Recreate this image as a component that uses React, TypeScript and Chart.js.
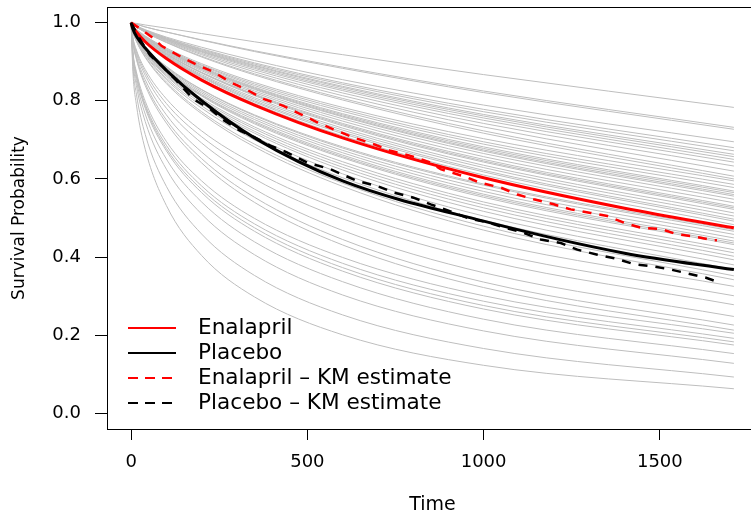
import React, { useEffect, useRef } from "react";
import { Chart, registerables } from "chart.js";

Chart.register(...registerables);

// ---------- data ----------
const xTicks = [0, 500, 1000, 1500];
const xTickLabels = ["0", "500", "1000", "1500"];
const yTicks = [0, 0.2, 0.4, 0.6, 0.8, 1.0];
const yTickLabels = ["0.0", "0.2", "0.4", "0.6", "0.8", "1.0"];

// times at which posterior survival curves were read
const greyTimes = [0, 5, 15, 40, 100, 200, 350, 600, 1000, 1710];
const greyCurves: number[][] = [
  [1, .999, .998, .994, .986, .972, .951, .918, .867, .783],
  [1, .998, .996, .989, .976, .956, .928, .886, .825, .732],
  [1, .998, .996, .989, .976, .955, .926, .883, .821, .727],
  [1, .997, .992, .982, .963, .937, .903, .854, .789, .695],
  [1, .996, .991, .981, .961, .933, .897, .846, .778, .680],
  [1, .996, .991, .980, .960, .931, .894, .842, .772, .672],
  [1, .996, .991, .980, .958, .929, .891, .837, .765, .663],
  [1, .996, .991, .979, .958, .927, .889, .834, .761, .657],
  [1, .996, .990, .979, .957, .926, .886, .830, .756, .650],
  [1, .996, .990, .978, .955, .924, .883, .826, .750, .643],
  [1, .996, .990, .978, .954, .921, .879, .820, .742, .633],
  [1, .996, .989, .977, .952, .918, .874, .813, .733, .620],
  [1, .995, .989, .976, .950, .914, .869, .806, .723, .607],
  [1, .995, .989, .975, .949, .912, .866, .802, .717, .600],
  [1, .992, .983, .966, .935, .895, .847, .783, .703, .595],
  [1, .992, .982, .965, .933, .892, .843, .778, .695, .586],
  [1, .992, .982, .964, .931, .890, .839, .773, .689, .578],
  [1, .992, .982, .963, .930, .887, .835, .767, .682, .569],
  [1, .991, .981, .962, .929, .885, .833, .764, .678, .565],
  [1, .991, .981, .962, .928, .884, .831, .761, .674, .560],
  [1, .991, .981, .961, .927, .882, .829, .759, .671, .556],
  [1, .991, .980, .961, .925, .880, .825, .754, .665, .548],
  [1, .991, .980, .959, .923, .877, .821, .748, .657, .539],
  [1, .991, .979, .958, .921, .873, .817, .742, .650, .530],
  [1, .990, .979, .958, .920, .872, .815, .739, .646, .526],
  [1, .990, .979, .957, .919, .871, .813, .736, .643, .522],
  [1, .990, .978, .956, .917, .867, .808, .730, .635, .513],
  [1, .990, .978, .955, .915, .864, .804, .725, .629, .505],
  [1, .990, .977, .954, .913, .862, .800, .720, .622, .497],
  [1, .989, .977, .954, .912, .860, .797, .716, .618, .492],
  [1, .989, .976, .952, .910, .856, .793, .710, .610, .483],
  [1, .983, .966, .936, .888, .829, .764, .682, .587, .470],
  [1, .983, .965, .936, .886, .828, .762, .679, .584, .466],
  [1, .983, .965, .934, .884, .824, .757, .673, .576, .458],
  [1, .982, .964, .933, .881, .820, .752, .667, .568, .449],
  [1, .982, .963, .931, .879, .816, .747, .661, .561, .441],
  [1, .981, .963, .930, .877, .814, .744, .657, .557, .436],
  [1, .981, .962, .930, .876, .812, .741, .654, .553, .432],
  [1, .981, .961, .927, .872, .806, .733, .644, .541, .419],
  [1, .980, .960, .925, .869, .802, .728, .637, .534, .411],
  [1, .980, .959, .924, .866, .798, .722, .630, .526, .402],
  [1, .979, .958, .922, .863, .793, .717, .623, .517, .393],
  [1, .978, .956, .919, .858, .787, .708, .613, .505, .380],
  [1, .978, .955, .917, .854, .781, .700, .603, .494, .368],
  [1, .977, .953, .913, .848, .772, .689, .589, .479, .352],
  [1, .976, .952, .911, .844, .767, .682, .581, .469, .342],
  [1, .963, .930, .880, .805, .723, .639, .542, .439, .325],
  [1, .960, .926, .873, .793, .708, .620, .520, .415, .301],
  [1, .958, .921, .865, .781, .692, .600, .498, .392, .278],
  [1, .954, .914, .854, .764, .669, .574, .468, .360, .248],
  [1, .951, .909, .845, .751, .652, .553, .445, .336, .226],
  [1, .949, .906, .839, .743, .641, .540, .431, .322, .213],
  [1, .927, .874, .799, .696, .595, .499, .399, .301, .205],
  [1, .924, .869, .791, .686, .582, .485, .384, .287, .192],
  [1, .922, .865, .786, .678, .573, .475, .373, .276, .183],
  [1, .920, .862, .781, .672, .565, .466, .364, .267, .175],
  [1, .914, .852, .766, .651, .541, .439, .337, .241, .153],
  [1, .906, .839, .747, .625, .510, .406, .303, .211, .128],
  [1, .892, .817, .714, .581, .459, .353, .252, .166, .093],
  [1, .876, .790, .676, .532, .404, .298, .201, .123, .063],
];

// fitted model curves
const modelTimes = [0, 5, 15, 40, 100, 200, 350, 600, 1000, 1400, 1710];
const enalaprilModel = [1, .989, .976, .951, .908, .853, .789, .705, .603, .525, .475];
const placeboModel = [1, .984, .965, .935, .878, .800, .705, .595, .492, .410, .368];

// Kaplan-Meier estimates
const kmEnalaprilTimes = [0, 25, 63, 87, 134, 187, 233, 281, 329, 375, 432, 480, 528, 574, 631, 688, 736, 793, 849, 878, 943, 991, 1048, 1096, 1142, 1199, 1247, 1304, 1351, 1398, 1446, 1503, 1550, 1597, 1650, 1662];
const kmEnalaprilSurv = [1, .985, .960, .940, .916, .892, .874, .848, .828, .805, .787, .766, .745, .727, .706, .689, .672, .659, .642, .625, .607, .590, .578, .560, .548, .535, .522, .513, .505, .488, .475, .472, .458, .453, .443, .443];
const kmPlaceboTimes = [0, 20, 54, 91, 130, 176, 224, 258, 310, 343, 395, 442, 499, 565, 641, 698, 745, 801, 850, 906, 954, 1010, 1060, 1105, 1162, 1219, 1266, 1323, 1375, 1426, 1483, 1531, 1579, 1631, 1668];
const kmPlaceboSurv = [1, .965, .916, .886, .850, .805, .779, .753, .723, .710, .685, .668, .642, .625, .595, .582, .565, .552, .535, .517, .500, .489, .475, .465, .445, .436, .419, .406, .396, .382, .376, .368, .358, .347, .335];

const legendLabels = ["Enalapril", "Placebo", "Enalapril \u2013 KM estimate", "Placebo \u2013 KM estimate"];
const legendColors = ["#ff0000", "#000000", "#ff0000", "#000000"];
const legendDashed = [false, false, true, true];

const FONT = "'DejaVu Sans', 'Liberation Sans', sans-serif";

const toPoints = (xs: number[], ys: number[]) => xs.map((x, i) => ({ x, y: ys[i] }));

const legendPlugin = {
  id: "rLegend",
  afterDraw(chart: any) {
    const ctx = chart.ctx as CanvasRenderingContext2D;
    ctx.save();
    ctx.font = `21.6px ${FONT}`;
    ctx.textBaseline = "middle";
    ctx.textAlign = "left";
    legendLabels.forEach((label, i) => {
      const y = 328 + i * 25;
      ctx.beginPath();
      ctx.strokeStyle = legendColors[i];
      ctx.lineWidth = 2;
      ctx.lineCap = "butt";
      ctx.setLineDash(legendDashed[i] ? [10, 7] : []);
      ctx.moveTo(128, y);
      ctx.lineTo(176, y);
      ctx.stroke();
      ctx.setLineDash([]);
      ctx.fillStyle = "#000";
      ctx.fillText(label, 198, y);
    });
    ctx.restore();
  },
};

const framePlugin = {
  id: "rFrame",
  afterDraw(chart: any) {
    const { ctx, chartArea } = chart;
    ctx.save();
    ctx.strokeStyle = "#000";
    ctx.lineWidth = 1;
    ctx.strokeRect(chartArea.left + 0.5, chartArea.top + 0.5, chartArea.right - chartArea.left, chartArea.bottom - chartArea.top);
    ctx.restore();
  },
};

const noPad = (s: any) => {
  s.paddingTop = 0;
  s.paddingBottom = 0;
  s.paddingLeft = 0;
  s.paddingRight = 0;
};

export default function App() {
  const ref = useRef<HTMLCanvasElement | null>(null);

  useEffect(() => {
    if (!ref.current) return;
    const greySets = greyCurves.map((vals, i) => ({
      label: `draw ${i + 1}`,
      data: toPoints(greyTimes, vals),
      borderColor: "#bebebe",
      borderWidth: 1,
      pointRadius: 0,
      cubicInterpolationMode: "monotone" as const,
      order: 10,
    }));
    const mainSets = [
      {
        label: legendLabels[3],
        data: toPoints(kmPlaceboTimes, kmPlaceboSurv),
        borderColor: "#000000",
        borderWidth: 2.5,
        borderDash: [9, 8],
        pointRadius: 0,
        tension: 0,
        order: 1,
      },
      {
        label: legendLabels[2],
        data: toPoints(kmEnalaprilTimes, kmEnalaprilSurv),
        borderColor: "#ff0000",
        borderWidth: 2.5,
        borderDash: [9, 8],
        pointRadius: 0,
        tension: 0,
        order: 1,
      },
      {
        label: legendLabels[1],
        data: toPoints(modelTimes, placeboModel),
        borderColor: "#000000",
        borderWidth: 3,
        pointRadius: 0,
        cubicInterpolationMode: "monotone" as const,
        order: 2,
      },
      {
        label: legendLabels[0],
        data: toPoints(modelTimes, enalaprilModel),
        borderColor: "#ff0000",
        borderWidth: 3,
        pointRadius: 0,
        cubicInterpolationMode: "monotone" as const,
        order: 2,
      },
    ];

    const chart = new Chart(ref.current, {
      type: "line",
      data: { datasets: [...mainSets, ...greySets] as any },
      options: {
        responsive: false,
        animation: false,
        devicePixelRatio: 1,
        layout: { padding: { left: 0, top: 7, right: 12, bottom: 0 } },
        plugins: { legend: { display: false }, tooltip: { enabled: false } },
        elements: { point: { radius: 0 } },
        scales: {
          x: {
            type: "linear",
            min: -68.4,
            max: 1778.4,
            afterBuildTicks: (s: any) => {
              s.ticks = xTicks.map((v) => ({ value: v }));
            },
            afterFit: (s: any) => {
              s.height = 91;
              noPad(s);
            },
            grid: { display: true, drawOnChartArea: false, drawTicks: true, tickLength: 11, color: "#000", lineWidth: 1 },
            border: { display: false },
            ticks: {
              autoSkip: false,
              maxRotation: 0,
              padding: 12,
              color: "#000",
              font: { family: FONT, size: 18 },
              callback: (_v: any, i: number) => xTickLabels[i],
            },
            title: {
              display: true,
              text: "Time",
              color: "#000",
              font: { family: FONT, size: 19 },
              padding: { top: 0, bottom: 4 },
            },
          },
          y: {
            type: "linear",
            min: -0.04,
            max: 1.04,
            afterBuildTicks: (s: any) => {
              s.ticks = yTicks.map((v) => ({ value: v }));
            },
            afterFit: (s: any) => {
              s.width = 107;
              noPad(s);
            },
            grid: { display: true, drawOnChartArea: false, drawTicks: true, tickLength: 12, color: "#000", lineWidth: 1 },
            border: { display: false },
            ticks: {
              autoSkip: false,
              padding: 14,
              color: "#000",
              font: { family: FONT, size: 18 },
              callback: (_v: any, i: number) => yTickLabels[i],
            },
            title: {
              display: true,
              text: "Survival Probability",
              color: "#000",
              font: { family: FONT, size: 17 },
              padding: { top: 9, bottom: 0 },
            },
          },
        },
      },
      plugins: [framePlugin, legendPlugin],
    });
    return () => chart.destroy();
  }, []);

  return (
    <div style={{ position: "absolute", left: 0, top: 0, width: 751, height: 511, overflow: "hidden", background: "#fff" }}>
      <canvas ref={ref} width={770} height={520} style={{ display: "block", width: 770, height: 520 }} />
    </div>
  );
}
